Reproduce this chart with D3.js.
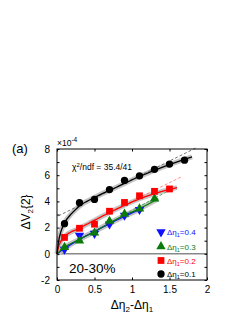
<!DOCTYPE html>
<html>
<head>
<meta charset="utf-8">
<script src="https://cdn.jsdelivr.net/npm/d3@7"></script>
<style>
  body { margin: 0; background: #fff; }
  svg { display: block; font-family: "Liberation Sans", Arial, sans-serif; }
</style>
</head>
<body>
<svg id="chart"></svg>
<script>
const width = 249;
const height = 323;

// data (units of 1e-4)
const xValues = [0.1, 0.3, 0.5, 0.7, 0.9, 1.1, 1.3, 1.5, 1.7];
const eta01 = [2.3, 3.9, 4.15, 4.9, 5.6, 5.95, 6.45, 6.85, 7.15];
const eta02 = [1.25, 1.95, 2.26, 3.25, 3.92, 4.43, 4.77, 4.95];
const eta03 = [0.5, 1.0, 1.6, 2.5, 3.04, 3.44, 4.2];
const eta04 = [0.34, 1.4, 1.55, 2.26, 2.93, 3.37];

// fit curves
const fit01X = [0, 0.02, 0.05, 0.1, 0.2, 0.3, 0.5, 0.8, 1.1, 1.4, 1.8];
const fit01Y = [0, 0.9, 1.65, 2.35, 3.1, 3.65, 4.3, 5.1, 5.9, 6.6, 7.4];
const fit02X = [0, 0.03, 0.1, 0.3, 0.5, 0.7, 0.9, 1.1, 1.3, 1.6];
const fit02Y = [0, 0.7, 1.3, 1.95, 2.55, 3.15, 3.7, 4.2, 4.6, 5.05];
const fit03X = [0, 0.1, 0.3, 0.5, 0.7, 0.9, 1.1, 1.35];
const fit03Y = [0, 0.5, 1.1, 1.7, 2.35, 2.95, 3.45, 4.2];
const fit04X = [0, 0.1, 0.3, 0.5, 0.7, 0.9, 1.15];
const fit04Y = [0, 0.4, 1.1, 1.7, 2.3, 2.85, 3.5];

const dash01X = [0.02, 1.86];
const dash01Y = [2.9, 8.1];
const dash02X = [0.0, 1.65];
const dash02Y = [1.2, 5.85];
const dash03X = [0.9, 1.45];
const dash03Y = [3.0, 4.7];

const labels = ['0.4', '0.3', '0.2', '0.1'];
const colors = ['#1010ff', '#0a7a0a', '#ff0000', '#000000'];

const svg = d3.select('#chart')
  .attr('width', width)
  .attr('height', height);

const x = d3.scaleLinear().domain([0, 2]).range([57, 207]);
const y = d3.scaleLinear().domain([-2, 8]).range([280, 149]);

const line = d3.line()
  .x(d => x(d[0]))
  .y(d => y(d[1]))
  .curve(d3.curveMonotoneX);

// zero line
svg.append('line')
  .attr('x1', x(0)).attr('x2', x(2))
  .attr('y1', y(0)).attr('y2', y(0))
  .attr('stroke', '#888')
  .attr('stroke-width', 1.5);

const fits = [
  { xs: fit04X, ys: fit04Y, c: colors[0] },
  { xs: fit03X, ys: fit03Y, c: colors[1] },
  { xs: fit02X, ys: fit02Y, c: colors[2] },
  { xs: fit01X, ys: fit01Y, c: colors[3] }
];
const dashes = [
  { xs: dash03X, ys: dash03Y, c: '#2a9a2a' },
  { xs: dash02X, ys: dash02Y, c: '#ff7070' },
  { xs: dash01X, ys: dash01Y, c: '#555' }
];

// gray bands
fits.forEach(f => {
  svg.append('path')
    .attr('d', line(d3.zip(f.xs, f.ys)))
    .attr('fill', 'none')
    .attr('stroke', '#c4c4c4')
    .attr('stroke-width', 5);
});

dashes.forEach(f => {
  svg.append('path')
    .attr('d', line(d3.zip(f.xs, f.ys)))
    .attr('fill', 'none')
    .attr('stroke', f.c)
    .attr('stroke-width', 0.8)
    .attr('stroke-dasharray', '3,2');
});

fits.forEach(f => {
  svg.append('path')
    .attr('d', line(d3.zip(f.xs, f.ys)))
    .attr('fill', 'none')
    .attr('stroke', f.c)
    .attr('stroke-width', 1.3);
});

// markers
const series = [
  { vals: eta04, sym: d3.symbolTriangle, size: 38, rot: 180 },
  { vals: eta03, sym: d3.symbolTriangle, size: 38, rot: 0 },
  { vals: eta02, sym: d3.symbolSquare, size: 46, rot: 0 },
  { vals: eta01, sym: d3.symbolCircle, size: 42, rot: 0 }
];

series.forEach((s, i) => {
  svg.append('g')
    .selectAll('path')
    .data(s.vals)
    .enter()
    .append('path')
    .attr('d', d3.symbol().type(s.sym).size(s.size))
    .attr('transform', (d, j) => `translate(${x(xValues[j])},${y(d)}) rotate(${s.rot})`)
    .attr('fill', colors[i]);
});

// axes
const styleAxis = g => {
  g.select('.domain').remove();
  g.selectAll('line').attr('stroke', '#000');
  g.selectAll('text').attr('font-size', 10).attr('fill', '#000');
};

svg.append('g')
  .attr('transform', `translate(${x(0)},0)`)
  .call(d3.axisLeft(y).tickValues(d3.range(-2, 9, 1)).tickSize(-2.5).tickPadding(7)
    .tickFormat(d => d % 2 === 0 ? d : ''))
  .call(styleAxis);

svg.append('g')
  .attr('transform', `translate(${x(2)},0)`)
  .call(d3.axisRight(y).tickValues(d3.range(-2, 9, 1)).tickSize(-2.5).tickFormat(''))
  .call(styleAxis);

svg.append('g')
  .attr('transform', `translate(0,${y(-2)})`)
  .call(d3.axisBottom(x).tickValues([0, 0.5, 1, 1.5, 2]).tickSize(-2.5).tickPadding(6)
    .tickFormat(d3.format('')))
  .call(styleAxis);

svg.append('g')
  .attr('transform', `translate(0,${y(8)})`)
  .call(d3.axisTop(x).tickValues([0, 0.5, 1, 1.5, 2]).tickSize(-2.5).tickFormat(''))
  .call(styleAxis);

// frame
svg.append('rect')
  .attr('x', x(0)).attr('y', y(8))
  .attr('width', x(2) - x(0)).attr('height', y(-2) - y(8))
  .attr('fill', 'none')
  .attr('stroke', '#000')
  .attr('stroke-width', 1);

// texts
svg.append('text')
  .attr('x', 12).attr('y', 153)
  .attr('font-size', 13)
  .text('(a)');

const mult = svg.append('text')
  .attr('x', 57).attr('y', 146)
  .attr('font-size', 8.5);
mult.append('tspan').text('×10');
mult.append('tspan').attr('dy', -4).attr('font-size', 6.5).text('-4');

const chi = svg.append('text')
  .attr('x', 72).attr('y', 170)
  .attr('font-size', 8.5);
chi.append('tspan').text('χ');
chi.append('tspan').attr('dy', -3).attr('font-size', 6).text('2');
chi.append('tspan').attr('dy', 3).text('/ndf = 35.4/41');

svg.append('text')
  .attr('x', 69).attr('y', 273)
  .attr('font-size', 13.5)
  .text('20-30%');

const yTitle = svg.append('text')
  .attr('transform', 'translate(30,212) rotate(-90)')
  .attr('text-anchor', 'middle')
  .attr('font-size', 12);
yTitle.append('tspan').text('ΔV');
yTitle.append('tspan').attr('dy', 3).attr('font-size', 8).text('2');
yTitle.append('tspan').attr('dy', -3).text('{2}');

const xTitle = svg.append('text')
  .attr('x', 132).attr('y', 309)
  .attr('text-anchor', 'middle')
  .attr('font-size', 12);
xTitle.append('tspan').text('Δη');
xTitle.append('tspan').attr('dy', 3).attr('font-size', 8).text('2');
xTitle.append('tspan').attr('dy', -3).text('-Δη');
xTitle.append('tspan').attr('dy', 3).attr('font-size', 8).text('1');

// legend
const legendY = [232, 246.5, 260.5, 274];
const legend = svg.selectAll('.legend')
  .data(labels)
  .enter()
  .append('g')
  .attr('class', 'legend')
  .attr('transform', (d, i) => `translate(161,${legendY[i]})`);

legend.append('path')
  .attr('d', (d, i) => d3.symbol().type(series[i].sym).size(series[i].size)())
  .attr('transform', (d, i) => `rotate(${series[i].rot})`)
  .attr('fill', (d, i) => colors[i]);

const lt = legend.append('text')
  .attr('x', 6).attr('y', 3)
  .attr('font-size', 8)
  .attr('fill', (d, i) => colors[i]);
lt.append('tspan').text('Δη');
lt.append('tspan').attr('dy', 2).attr('font-size', 5.5).text('1');
lt.append('tspan').attr('dy', -2).text(d => '=' + d);
</script>
</body>
</html>
